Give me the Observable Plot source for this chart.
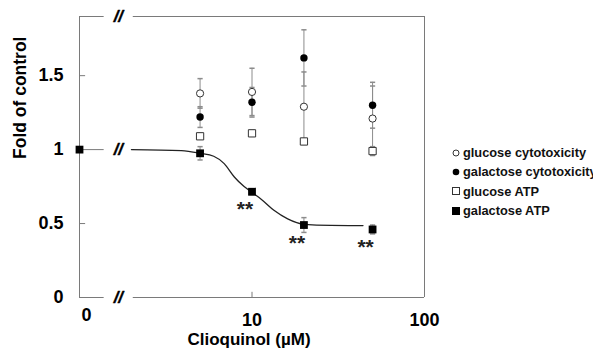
<!DOCTYPE html>
<html><head><meta charset="utf-8">
<script src="https://cdn.jsdelivr.net/npm/d3@7"></script>
<script src="https://cdn.jsdelivr.net/npm/@observablehq/plot@0.6"></script>
<style>
body{margin:0;background:#fff;font-family:"Liberation Sans",Arial,sans-serif;}
#wrap{position:relative;width:593px;height:350px;overflow:hidden;}
#legend{position:absolute;left:451px;top:143px;font-weight:bold;font-size:12.8px;color:#111;white-space:nowrap;}
.row{height:19.3px;display:flex;align-items:center;}
.row svg{margin-right:2px;flex:none}
</style></head><body><div id="wrap"><div id="legend"></div></div>
<script>
// ---- data ----
const concentrations = [5, 10, 20, 50];           // µM
const controlConc = 1;                             // axis position labelled "0"
const glucoseCyto = [1.38, 1.39, 1.29, 1.21];
const glucoseCytoErr = [0.10, 0.16, 0.235, 0.22];
const galactoseCyto = [1.22, 1.32, 1.62, 1.30];
const galactoseCytoErr = [0.07, 0.10, 0.19, 0.155];
const glucoseATP = [1.09, 1.11, 1.055, 0.99];
const glucoseATPErr = [0.02, 0.02, 0.02, 0.03];
const galactoseATPControl = 1.0;
const galactoseATP = [0.975, 0.715, 0.49, 0.46];
const galactoseATPErr = [0.045, 0.02, 0.05, 0.03];
const significance = ["", "**", "**", "**"];
// fitted curve (galactose ATP)
const fitX = [2.0, 3.9, 5.0, 6.0, 6.9, 7.9, 9.0, 10, 11.3, 13.4, 16.1, 20, 28.6, 44];
const fitY = [1.0, 0.993, 0.975, 0.955, 0.905, 0.815, 0.75, 0.71, 0.665, 0.59, 0.532, 0.495, 0.487, 0.486];
const yTicks = [0, 0.5, 1, 1.5];
const xTicks = [10, 100];
const yTop = 1.9;
const breakX = 1.68, gapStart = 1.39, gapEnd = 2.05;
const seriesNames = ["glucose cytotoxicity", "galactose cytotoxicity", "glucose ATP", "galactose ATP"];

// ---- tables ----
const build = (vals, errs, name) => concentrations.map((c, i) => ({name, x: c, y: vals[i], lo: vals[i] - errs[i], hi: vals[i] + errs[i]}));
const gluC = build(glucoseCyto, glucoseCytoErr, seriesNames[0]);
const galC = build(galactoseCyto, galactoseCytoErr, seriesNames[1]);
const gluA = build(glucoseATP, glucoseATPErr, seriesNames[2]);
const galA = [{name: seriesNames[3], x: controlConc, y: galactoseATPControl, lo: galactoseATPControl, hi: galactoseATPControl},
  ...build(galactoseATP, galactoseATPErr, seriesNames[3])];
const allRows = [...gluC, ...galC, ...gluA, ...galA.slice(1)];
const caps = allRows.flatMap(d => [{x: d.x, y: d.lo}, {x: d.x, y: d.hi}]);
const fit = fitX.map((x, i) => ({x, y: fitY[i]}));
const sig = concentrations.map((c, i) => ({x: c, y: galactoseATP[i], t: significance[i]})).filter(d => d.t);
const frameSegs = [
  {y: 0, x1: controlConc, x2: gapStart}, {y: 0, x1: gapEnd, x2: 100},
  {y: yTop, x1: controlConc, x2: gapStart}, {y: yTop, x1: gapEnd, x2: 100},
  {y: 1, x1: controlConc, x2: gapStart}
];
const breaks = [0, 1, yTop].map(y => ({x: breakX, y}));

const capSymbol = {draw(ctx, size) { const r = Math.sqrt(size / Math.PI); ctx.moveTo(-r, 0); ctx.lineTo(r, 0); }};
const axisGray = "#7a7a7a", errGray = "#8c8c8c";

const chart = Plot.plot({
  width: 593, height: 350,
  marginLeft: 79, marginRight: 169, marginTop: 16, marginBottom: 53,
  style: {fontFamily: "'Liberation Sans', Arial, sans-serif", fontWeight: "bold", fontSize: "18px", background: "white", overflow: "visible"},
  x: {type: "log", domain: [1, 100]},
  y: {domain: [0, yTop]},
  marks: [
    Plot.ruleX([controlConc, 100], {y1: 0, y2: yTop, stroke: axisGray}),
    Plot.ruleY(frameSegs, {y: "y", x1: "x1", x2: "x2", stroke: axisGray}),
    Plot.ruleY([0.5, 1.5], {x1: controlConc, x2: 1.085, stroke: axisGray}),
    Plot.ruleX(xTicks.slice(0, 1), {y1: 0, y2: 0.035, stroke: axisGray}),
    Plot.text(breaks, {x: "x", y: "y", text: () => "//", fontSize: 17, fontStyle: "italic", fill: "#000", stroke: "#000", strokeWidth: 0.4}),
    Plot.ruleX(allRows, {x: "x", y1: "lo", y2: "hi", stroke: errGray}),
    Plot.dot(caps, {x: "x", y: "y", symbol: capSymbol, r: 2.6, stroke: errGray, fill: "none"}),
    Plot.line(fit, {x: "x", y: "y", curve: "monotone-x", stroke: "#222", strokeWidth: 1.3}),
    Plot.dot(gluA, {x: "x", y: "y", symbol: "square", r: 4.1, fill: "white", stroke: "#333", strokeWidth: 1}),
    Plot.dot(gluC, {x: "x", y: "y", symbol: "circle", r: 3.6, fill: "white", stroke: "#333", strokeWidth: 1}),
    Plot.dot(galC, {x: "x", y: "y", symbol: "circle", r: 3.7, fill: "#000"}),
    Plot.dot(galA, {x: "x", y: "y", symbol: "square", r: 4.4, fill: "#000"}),
    Plot.text(sig, {x: "x", y: "y", text: "t", dy: 18, dx: -7, fontSize: 21, fill: "#222"}),
    Plot.axisY({ticks: yTicks, tickSize: 0, tickPadding: 16, tickFormat: d => String(d), fontSize: 18, label: null}),
    Plot.axisX({ticks: xTicks, tickSize: 0, tickPadding: 16, tickFormat: d => String(d), fontSize: 18, label: null}),
    Plot.text([controlConc], {x: d => d, frameAnchor: "bottom", lineAnchor: "top", dy: 11, dx: 7, text: () => "0", fontSize: 18}),
    Plot.text(["Fold of control"], {frameAnchor: "left", lineAnchor: "middle", rotate: -90, dx: -59, dy: 2, fontSize: 17.5}),
    Plot.text(["Clioquinol (µM)"], {frameAnchor: "bottom", lineAnchor: "middle", dy: 42.5, dx: -3, fontSize: 17})
  ]
});
document.getElementById("wrap").prepend(chart);

// ---- legend ----
const symSvg = {
  "glucose cytotoxicity": '<circle cx="5" cy="5" r="3" fill="white" stroke="#333"/>',
  "galactose cytotoxicity": '<circle cx="5" cy="5" r="3.3" fill="#000"/>',
  "glucose ATP": '<rect x="1.5" y="1.5" width="7" height="7" fill="white" stroke="#333"/>',
  "galactose ATP": '<rect x="1" y="1" width="8" height="8" fill="#000"/>'
};
document.getElementById("legend").innerHTML = seriesNames.map(n =>
  `<div class="row"><svg width="10" height="10">${symSvg[n]}</svg><span>${n}</span></div>`).join("");
</script></body></html>
